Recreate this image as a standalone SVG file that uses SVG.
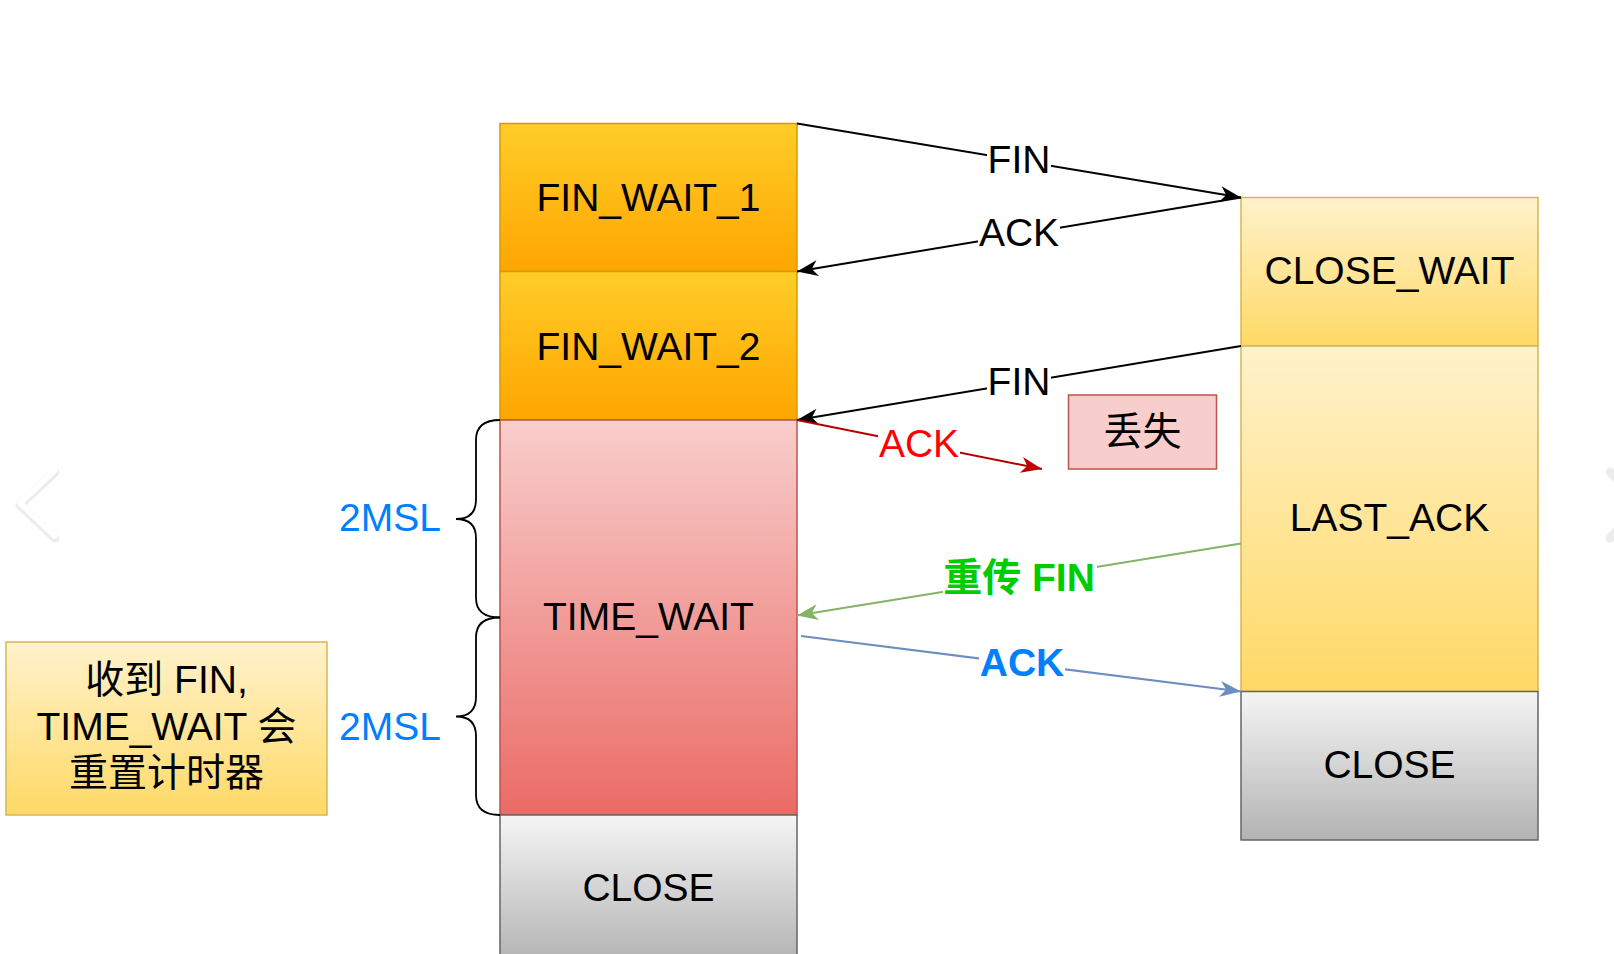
<svg xmlns="http://www.w3.org/2000/svg" width="1614" height="954" viewBox="0 0 1614 954">
<style>
text{font-family:"Liberation Sans",Arial,Helvetica,"Noto Sans CJK SC",sans-serif;font-size:39px;fill:#000;text-anchor:middle}
.b{font-weight:bold}
.box{stroke-width:1.5}
.ln{fill:none;stroke-width:2}
.msl{fill:#007fff;text-anchor:end}
</style>
<defs>
<linearGradient id="gOr" x1="0" y1="0" x2="0" y2="1"><stop offset="0" stop-color="#ffcd28"/><stop offset="1" stop-color="#ffa500"/></linearGradient>
<linearGradient id="gRd" x1="0" y1="0" x2="0" y2="1"><stop offset="0" stop-color="#f8cecc"/><stop offset="1" stop-color="#ea6b66"/></linearGradient>
<linearGradient id="gGy" x1="0" y1="0" x2="0" y2="1"><stop offset="0" stop-color="#f5f5f5"/><stop offset="1" stop-color="#b3b3b3"/></linearGradient>
<linearGradient id="gYe" x1="0" y1="0" x2="0" y2="1"><stop offset="0" stop-color="#fff2cc"/><stop offset="1" stop-color="#ffd966"/></linearGradient>
<marker id="mK" viewBox="-22 -9 24 18" refX="0" refY="0" markerWidth="24" markerHeight="18" markerUnits="userSpaceOnUse" orient="auto"><path d="M0,0 L-21,-8 L-15,0 L-21,8 Z" fill="#000"/></marker>
<marker id="mR" viewBox="-22 -9 24 18" refX="0" refY="0" markerWidth="24" markerHeight="18" markerUnits="userSpaceOnUse" orient="auto"><path d="M0,0 L-21,-8 L-15,0 L-21,8 Z" fill="#c00000"/></marker>
<marker id="mG" viewBox="-22 -9 24 18" refX="0" refY="0" markerWidth="24" markerHeight="18" markerUnits="userSpaceOnUse" orient="auto"><path d="M0,0 L-21,-8 L-15,0 L-21,8 Z" fill="#82b366"/></marker>
<marker id="mB" viewBox="-22 -9 24 18" refX="0" refY="0" markerWidth="24" markerHeight="18" markerUnits="userSpaceOnUse" orient="auto"><path d="M0,0 L-21,-8 L-15,0 L-21,8 Z" fill="#6c8ebf"/></marker>
</defs>
<rect width="1614" height="954" fill="#fff"/>

<!-- faint carousel chevrons -->
<g id="nav" fill="none" stroke-linecap="round" stroke-linejoin="round">
<polyline points="55,472 20,505 55,538" stroke="#ececec" stroke-width="9"/>
<polyline points="55,470 20,503 55,536" stroke="#fff" stroke-width="6"/>
<polyline points="1610,472 1618,480" stroke="#ececec" stroke-width="9"/>
<polyline points="1610,538 1618,530" stroke="#ececec" stroke-width="9"/>
</g>

<g id="fin_wait_1"><rect class="box" x="500" y="123.5" width="297" height="148" fill="url(#gOr)" stroke="#d79b00"/><text x="648.5" y="211">FIN_WAIT_1</text></g>
<g id="fin_wait_2"><rect class="box" x="500" y="271.5" width="297" height="148.5" fill="url(#gOr)" stroke="#d79b00"/><text x="648.5" y="359.5">FIN_WAIT_2</text></g>
<g id="time_wait"><rect class="box" x="500" y="420" width="297" height="395" fill="url(#gRd)" stroke="#b85450"/><text x="648.5" y="630">TIME_WAIT</text></g>
<g id="close_left"><rect class="box" x="500" y="815" width="297" height="148" fill="url(#gGy)" stroke="#666"/><text x="648.5" y="901">CLOSE</text></g>

<g id="close_wait"><rect class="box" x="1241" y="197.5" width="297" height="148.5" fill="url(#gYe)" stroke="#d6b656"/><text x="1389.5" y="284">CLOSE_WAIT</text></g>
<g id="last_ack"><rect class="box" x="1241" y="346" width="297" height="345.5" fill="url(#gYe)" stroke="#d6b656"/><text x="1389.5" y="531">LAST_ACK</text></g>
<g id="close_right"><rect class="box" x="1241" y="691.5" width="297" height="148.5" fill="url(#gGy)" stroke="#666"/><text x="1389.5" y="778">CLOSE</text></g>

<g id="lost"><rect class="box" x="1068.5" y="395" width="148" height="74" fill="#f8cecc" stroke="#b85450"/><text x="1142.5" y="445">丢失</text></g>

<g id="note"><rect class="box" x="6" y="642" width="321" height="173" fill="url(#gYe)" stroke="#d6b656"/>
<text x="166.5" y="693">收到 FIN,</text>
<text x="166.5" y="740">TIME_WAIT 会</text>
<text x="166.5" y="786">重置计时器</text></g>

<g id="braces" fill="none" stroke="#000" stroke-width="1.8">
<path d="M500,420 Q476,420 476,440 L476,500 Q476,519 456,519 Q476,519 476,538 L476,598 Q476,617.5 500,617.5"/>
<path d="M500,617.5 Q476,617.5 476,637.5 L476,697 Q476,716.5 456,716.5 Q476,716.5 476,736 L476,795 Q476,815 500,815"/>
</g>
<g id="msl_labels">
<text class="msl" x="441" y="530.5">2MSL</text>
<text class="msl" x="441" y="740">2MSL</text>
</g>

<g id="connectors">
<line class="ln" x1="797" y1="123.5" x2="1241" y2="197.5" stroke="#000" marker-end="url(#mK)"/>
<line class="ln" x1="1241" y1="197.5" x2="797" y2="271.5" stroke="#000" marker-end="url(#mK)"/>
<line class="ln" x1="1241" y1="346" x2="797" y2="420" stroke="#000" marker-end="url(#mK)"/>
<line class="ln" x1="797" y1="420" x2="1042" y2="469" stroke="#b20000" marker-end="url(#mR)"/>
<line class="ln" x1="1241" y1="543.5" x2="797" y2="615.5" stroke="#82b366" marker-end="url(#mG)"/>
<line class="ln" x1="801" y1="636" x2="1241" y2="691.5" stroke="#6c8ebf" marker-end="url(#mB)"/>

<rect x="987" y="142" width="64" height="34" fill="#fff"/>
<text x="1019" y="173">FIN</text>
<rect x="978" y="217" width="82" height="34" fill="#fff"/>
<text x="1019" y="246">ACK</text>
<rect x="987" y="365" width="64" height="34" fill="#fff"/>
<text x="1019" y="395">FIN</text>
<rect x="878" y="427" width="82" height="34" fill="#fff"/>
<text x="919" y="456.5" fill="#ff0000" style="fill:#ff0000">ACK</text>
<rect x="943" y="560" width="154" height="36" fill="#fff"/>
<text class="b" x="1019" y="591" style="fill:#00cc00">重传 FIN</text>
<rect x="979" y="645" width="86" height="34" fill="#fff"/>
<text class="b" x="1022" y="676" style="fill:#007fff">ACK</text>
</g>
</svg>
